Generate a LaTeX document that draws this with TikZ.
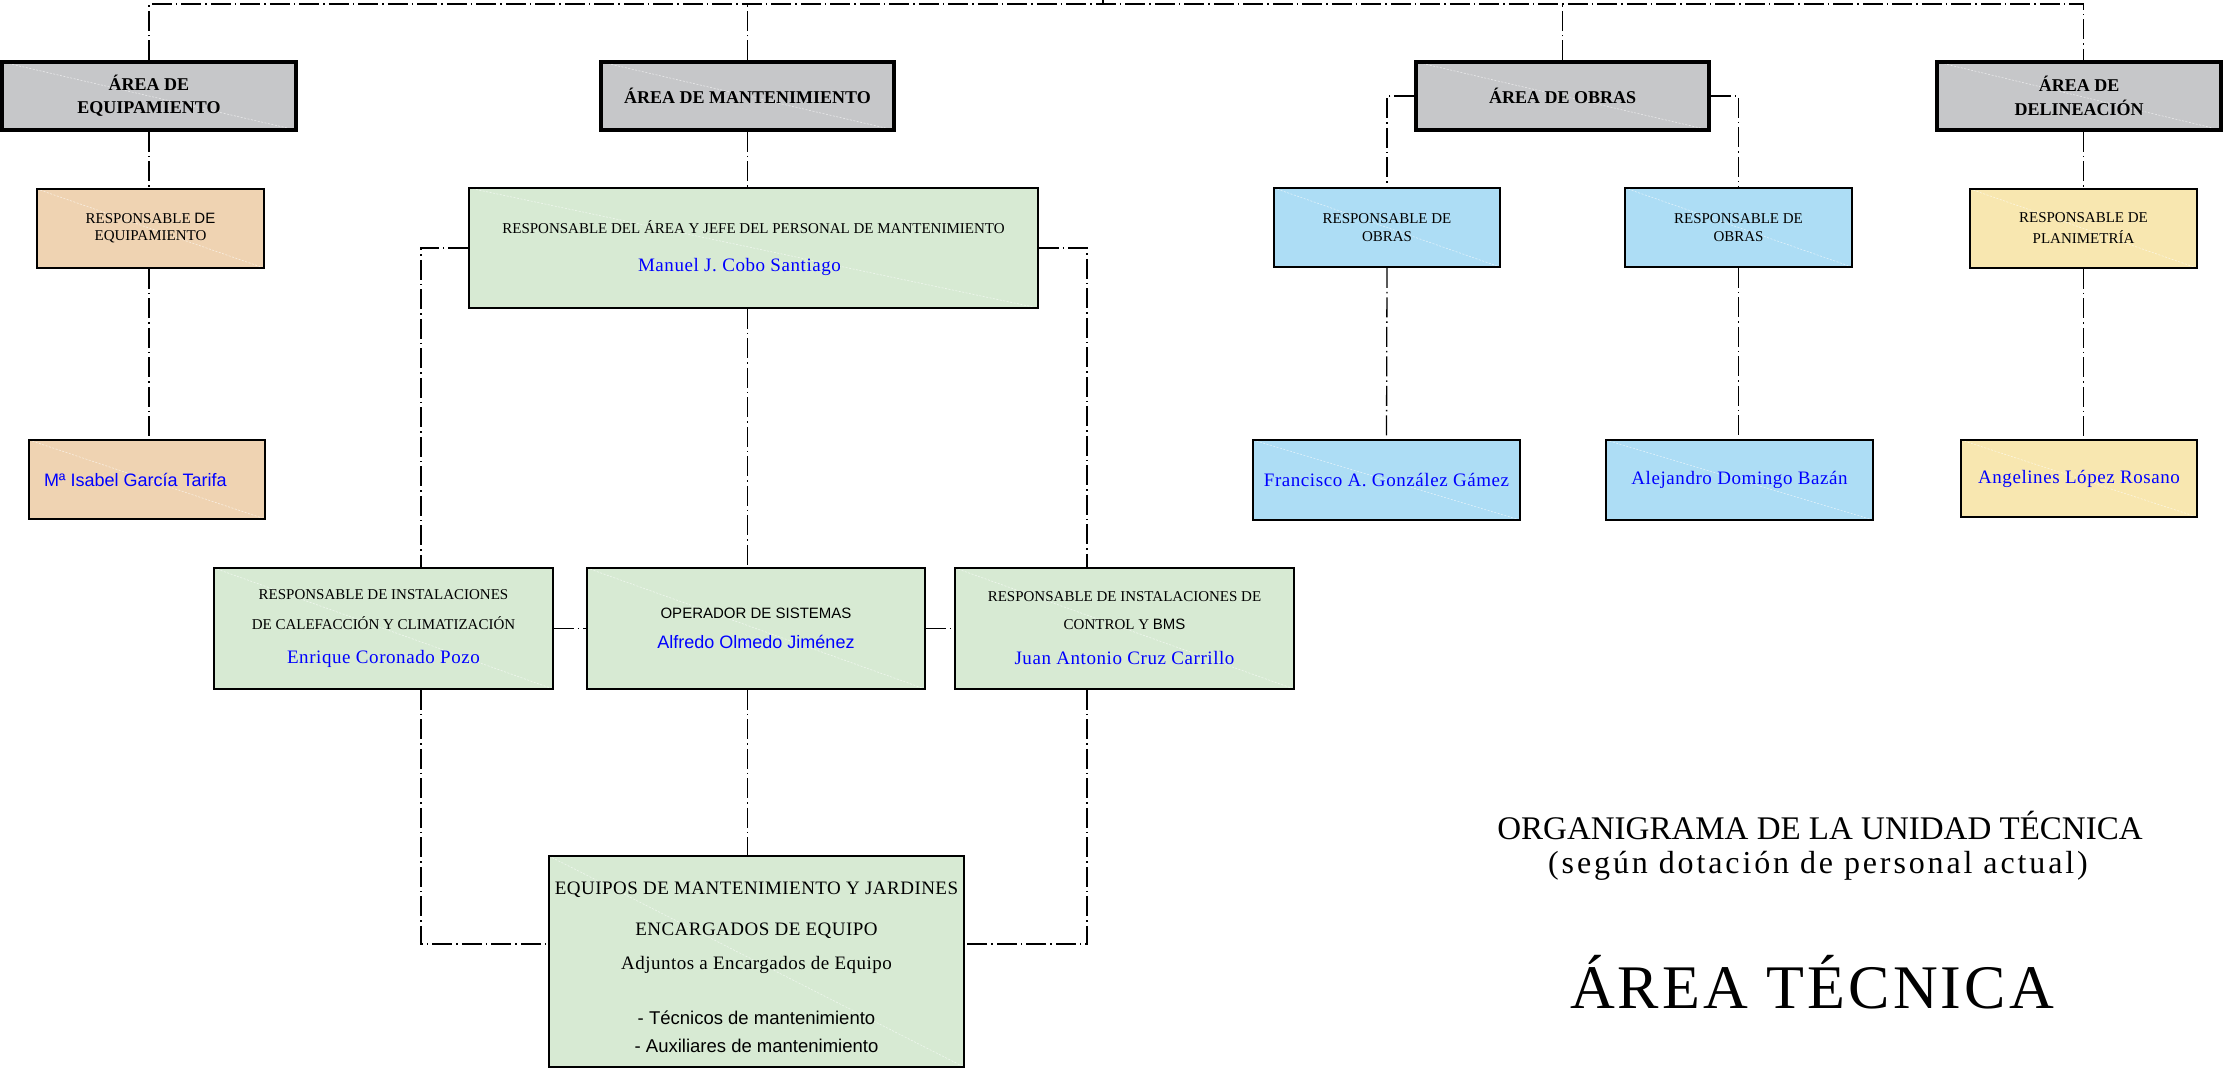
\documentclass[tikz,border=0pt]{standalone}
\usepackage{fontspec}
\setmainfont{Liberation Serif}
\newfontfamily\arialfont{Liberation Sans}
\usetikzlibrary{calc}
\definecolor{grisarea}{HTML}{C6C7C9}
\definecolor{ocre}{HTML}{EFD3B2}
\definecolor{verde}{HTML}{D7EAD3}
\definecolor{celeste}{HTML}{ADDDF5}
\definecolor{crema}{HTML}{F8E7B0}
\definecolor{azul}{HTML}{0000FF}
\newcommand{\cargo}{\fontsize{15}{17}\selectfont}
\newcommand{\areafont}{\fontsize{18}{20}\selectfont\bfseries}
\newcommand{\nombre}[1]{{\color{azul}\fontsize{19}{21}\selectfont\addfontfeatures{LetterSpace=3}#1}}
\newcommand{\nombresans}[1]{{\color{azul}\arialfont\fontsize{18}{20}\selectfont #1}}
\tikzset{
	conn/.style={line width=1.3pt, dash pattern=on 20pt off 4pt on 1.5pt off 4pt},
	diagonal/.style={path picture={\draw[white, opacity=0.6, line width=0.6pt, dash pattern=on 2pt off 1.5pt] (path picture bounding box.north west) -- (path picture bounding box.south east);}},
	areabox/.style={draw, line width=3.5pt, fill=grisarea, inner sep=0pt, align=center, font=\areafont, minimum height=68pt, diagonal},
	cajabox/.style={draw, line width=1.6pt, inner sep=0pt, align=center, font=\cargo, diagonal},
}

\begin{document}
\begin{tikzpicture}[x=1pt, y=-1pt]
			%%%%% START %%%%%
			\useasboundingbox (0,0) rectangle (2223,1069);
			
			\node[areabox, minimum width=294pt] (areaEq) at (149,96) {ÁREA DE\\[3pt]EQUIPAMIENTO};
			\node[areabox, minimum width=293pt] (areaMant) at (747.5,96) {ÁREA DE MANTENIMIENTO};
			\node[areabox, minimum width=293pt] (areaObras) at (1562.5,96) {ÁREA DE OBRAS};
			\node[areabox, minimum width=284pt] (areaDel) at (2079,96) {ÁREA DE\\[4pt]DELINEACIÓN};
			
			\node[cajabox, fill=ocre, minimum width=227pt, minimum height=79pt] (respEq) at (150.5,228.5) {RESPONSABLE {\arialfont DE}\\EQUIPAMIENTO};
			\node[cajabox, fill=ocre, minimum width=236pt, minimum height=79pt, text width=206pt, align=left] (isabel) at (147,479.5) {\nombresans{Mª Isabel García Tarifa}};
			
			\node[cajabox, fill=verde, minimum width=569pt, minimum height=120pt] (respMant) at (753.5,248) {RESPONSABLE DEL ÁREA Y JEFE DEL PERSONAL DE MANTENIMIENTO\\[21pt]\nombre{Manuel J. Cobo Santiago}\hspace*{28pt}};
			\node[cajabox, fill=verde, minimum width=339pt, minimum height=121pt] (calef) at (383.5,628.5) {RESPONSABLE DE INSTALACIONES\\[13pt]DE CALEFACCIÓN Y CLIMATIZACIÓN\\[17pt]\nombre{Enrique Coronado Pozo}};
			\node[cajabox, fill=verde, minimum width=338pt, minimum height=121pt] (operador) at (756,628.5) {{\arialfont OPERADOR DE SISTEMAS}\\[13pt]\nombresans{Alfredo Olmedo Jiménez}};
			\node[cajabox, fill=verde, minimum width=339pt, minimum height=121pt] (control) at (1124.5,628.5) {RESPONSABLE DE INSTALACIONES DE\\[11pt]CONTROL Y {\arialfont BMS}\\[18pt]\nombre{Juan Antonio Cruz Carrillo}};
			\node[cajabox, fill=verde, minimum width=415pt, minimum height=211pt, font=\fontsize{19}{20}\selectfont\addfontfeatures{LetterSpace=2.5}] (equipos) at (756.5,961.5) {\rule{0pt}{25pt}EQUIPOS DE MANTENIMIENTO Y JARDINES\\[21pt]ENCARGADOS DE EQUIPO\\[14pt]Adjuntos a Encargados de Equipo\\[35pt]{\arialfont\fontsize{18.5}{20}\selectfont - Técnicos de mantenimiento}\\[8pt]{\arialfont\fontsize{18.5}{20}\selectfont - Auxiliares de mantenimiento}};
			
			\node[cajabox, fill=celeste, minimum width=226pt, minimum height=79pt] (respOb1) at (1387,227.5) {RESPONSABLE DE\\[1pt]OBRAS};
			\node[cajabox, fill=celeste, minimum width=227pt, minimum height=79pt] (respOb2) at (1738.5,227.5) {RESPONSABLE DE\\[1pt]OBRAS};
			\node[cajabox, fill=celeste, minimum width=267pt, minimum height=80pt] (francisco) at (1386.5,480) {\nombre{Francisco A. González Gámez}};
			\node[cajabox, fill=celeste, minimum width=267pt, minimum height=80pt] (alejandro) at (1739.5,480) {\nombre{Alejandro Domingo Bazán}};
			
			\node[cajabox, fill=crema, minimum width=227pt, minimum height=79pt] (respPlan) at (2083.5,228.5) {RESPONSABLE DE\\[4pt]PLANIMETRÍA};
			\node[cajabox, fill=crema, minimum width=236pt, minimum height=77pt] (angelines) at (2079,478.5) {\nombre{Angelines López Rosano}};
			
			\node (titulo1) at (1820,825) {\fontsize{33}{36}\selectfont ORGANIGRAMA DE LA UNIDAD TÉCNICA};
			\node (titulo2) at (1818,866) {\fontsize{32}{36}\selectfont\addfontfeatures{LetterSpace=9}(según dotación de personal actual)};
			\node (titulo3) at (1812,982) {\fontsize{62}{66}\selectfont\addfontfeatures{LetterSpace=5}ÁREA TÉCNICA};
			
			% connectors
			\coordinate (barra) at (1103,4);
			\coordinate (arriba) at (1103,0);
			\coordinate (ejeIzq) at (421,0);
			\coordinate (ejeDer) at (1087,0);
			\coordinate (ejeInf) at (0,944);
			
			\draw[line width=1.3pt] (barra) -- (arriba);
			\draw[conn] (areaEq.north) |- (barra) -| (respPlan.north |- areaDel.north);
			\draw[conn] (areaMant.north) -- (areaMant.north |- barra);
			\draw[conn] (areaObras.north) -- (areaObras.north |- barra);
			
			\draw[conn] (areaEq.south) -- (areaEq.south |- respEq.north);
			\draw[conn] (respEq.south -| areaEq.south) -- (areaEq.south |- isabel.north);
			
			\draw[conn] (areaMant.south) -- (areaMant.south |- respMant.north);
			\draw[conn] (respMant.south -| areaMant.south) -- (areaMant.south |- operador.north);
			\draw[conn] (operador.south -| areaMant.south) -- (areaMant.south |- equipos.north);
			\draw[conn] (respMant.west) -| (calef.north -| ejeIzq);
			\draw[conn] (respMant.east) -| (control.north -| ejeDer);
			\draw[conn] (calef.east) -- (operador.west);
			\draw[conn] (operador.east) -- (control.west);
			\draw[conn] (calef.south -| ejeIzq) |- (equipos.west |- ejeInf);
			\draw[conn] (control.south -| ejeDer) |- (equipos.east |- ejeInf);
			
			\draw[conn] (areaObras.west) -| (respOb1.north);
			\draw[conn] (areaObras.east) -| (respOb2.north);
			\draw[conn] (respOb1.south) -- (francisco.north);
			\draw[conn] (respOb2.south) -- (respOb2.south |- alejandro.north);
			
			\draw[conn] (respPlan.north |- areaDel.south) -- (respPlan.north);
			\draw[conn] (respPlan.south) -- (respPlan.south |- angelines.north);
			
			%%%%% END %%%%%
\end{tikzpicture}
\end{document}
